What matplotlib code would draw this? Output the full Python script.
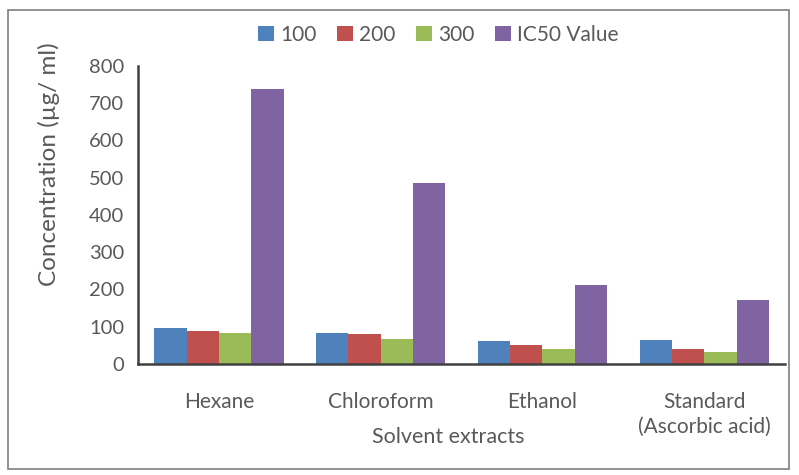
import numpy as np
import matplotlib
matplotlib.use("Agg")
import matplotlib.pyplot as plt
from matplotlib.patches import Rectangle

# Extract groups and concentration series
categories = ["Hexane", "Chloroform", "Ethanol", "Standard\n(Ascorbic acid)"]
series_names = ["100", "200", "300", "IC50 Value"]
conc_100 = [97, 84, 62, 64]
conc_200 = [89, 80, 51, 39]
conc_300 = [83, 66, 40, 33]
ic50 = [738, 485, 213, 172]
colors = ["#4F81BD", "#C0504D", "#9BBB59", "#8064A2"]

plt.rcParams["font.family"] = ["Lato", "DejaVu Sans"]
text_col = "#595959"

fig = plt.figure(figsize=(7.99, 4.75), dpi=100)
ax = fig.add_axes([0.1727, 0.2337, 0.81, 0.6274])

x = np.arange(len(categories))
w = 0.2
for i, vals in enumerate([conc_100, conc_200, conc_300, ic50]):
    ax.bar(x + (i - 1.5) * w, vals, width=w, color=colors[i],
           label=series_names[i], zorder=2)

ax.set_xlim(-0.5, len(categories) - 0.5)
ax.set_ylim(0, 800)
ax.set_yticks(range(0, 801, 100))
ax.set_xticks(x)
ax.set_xticklabels(categories, linespacing=1.3, fontsize=15)
ax.tick_params(axis="both", length=0, labelcolor=text_col)
ax.tick_params(axis="y", labelsize=14.5, pad=10)
ax.tick_params(axis="x", pad=20)

for s in ["top", "right"]:
    ax.spines[s].set_visible(False)
for s in ["left", "bottom"]:
    ax.spines[s].set_color("#404040")
    ax.spines[s].set_linewidth(1.8)

ax.set_ylabel("Concentration (µg/ ml)", fontsize=17.5, color=text_col)
ax.yaxis.set_label_coords(-0.121, 0.671)
ax.set_xlabel("Solvent extracts", fontsize=15.5, color=text_col)
ax.xaxis.set_label_coords(0.479, -0.212)

leg = ax.legend(loc="center", bbox_to_anchor=(0.464, 1.104), ncol=4,
                frameon=False, fontsize=15, handlelength=0.75,
                handleheight=0.75, handletextpad=0.3, columnspacing=1.0)
for t in leg.get_texts():
    t.set_color(text_col)

# outer frame
fig.patches.append(Rectangle((0.01, 0.012), 0.978, 0.968, transform=fig.transFigure,
                             fill=False, edgecolor="#7f7f7f", linewidth=1.2))

fig.savefig("out.png", dpi=100)
